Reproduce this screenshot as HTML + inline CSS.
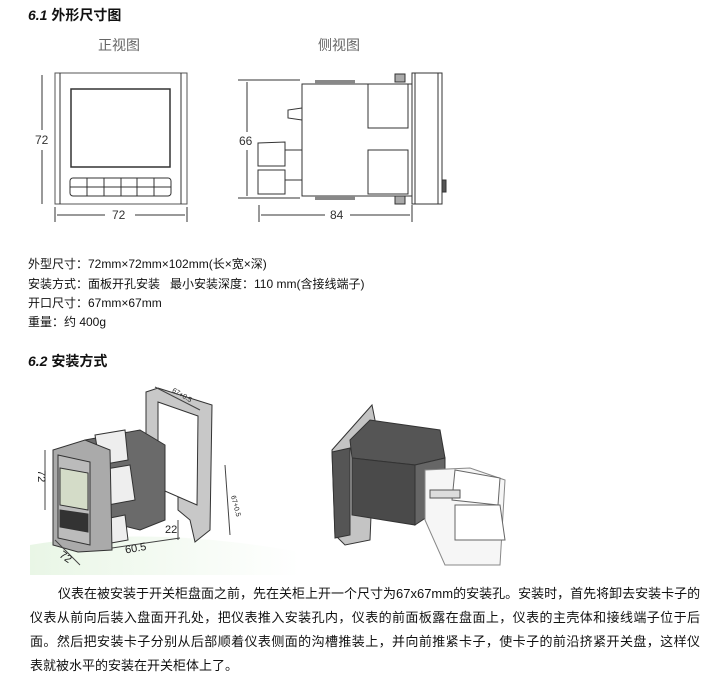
<!DOCTYPE html>
<html><head><meta charset="utf-8"><style>
body{margin:0;background:#fff;width:718px;height:690px;position:relative;overflow:hidden;font-family:"Liberation Sans","Noto Sans CJK SC",sans-serif;color:#111}
.t{position:absolute;white-space:nowrap}
.h{font-size:14px;font-weight:bold}
.s{font-size:12px}
.p{position:absolute;left:30px;width:670px;font-size:13px;text-align:justify;text-align-last:justify;white-space:nowrap;height:18px;line-height:18px}
</style></head><body>
<svg width="718" height="690" style="position:absolute;left:0;top:0" xmlns="http://www.w3.org/2000/svg">
<defs><linearGradient id="g" x1="0" y1="0" x2="1" y2="0"><stop offset="0" stop-color="#e9f6e6"/><stop offset="1" stop-color="#fff"/></linearGradient></defs>
<path d="M30 545 Q150 525 300 552 L300 575 L30 575Z" fill="url(#g)"/>
<g fill="none" stroke="#333" stroke-width="1">
<rect x="55" y="73" width="132" height="131" stroke="#555"/>
<line x1="60" y1="73" x2="60" y2="204"/><line x1="181" y1="73" x2="181" y2="204"/>
<rect x="71" y="89" width="99" height="78" stroke-width="1.5"/>
<rect x="70" y="178" width="101" height="18" rx="3"/>
<line x1="70" y1="187" x2="171" y2="187"/>
<line x1="87" y1="178" x2="87" y2="196"/><line x1="104" y1="178" x2="104" y2="196"/><line x1="121" y1="178" x2="121" y2="196"/><line x1="137" y1="178" x2="137" y2="196"/><line x1="154" y1="178" x2="154" y2="196"/>
<line x1="42" y1="75" x2="42" y2="130"/><line x1="42" y1="150" x2="42" y2="204"/>
<line x1="55" y1="207" x2="55" y2="222"/><line x1="187" y1="207" x2="187" y2="222"/>
<line x1="57" y1="215" x2="105" y2="215"/><line x1="135" y1="215" x2="185" y2="215"/>
<rect x="412" y="73" width="30" height="131"/><line x1="415" y1="73" x2="415" y2="204"/><line x1="438" y1="73" x2="438" y2="204"/>
<rect x="302" y="84" width="110" height="112"/>
<rect x="368" y="84" width="40" height="44"/><rect x="368" y="150" width="40" height="44"/>
<path d="M302 108 L288 110 L288 118 L302 120"/>
<path d="M258 143 L285 142 L285 166 L258 166Z"/><path d="M258 170 L285 170 L285 194 L258 194Z"/>
<line x1="285" y1="150" x2="302" y2="150"/><line x1="285" y1="180" x2="302" y2="180"/>
<line x1="238" y1="80" x2="300" y2="80"/><line x1="238" y1="198" x2="300" y2="198"/>
<line x1="247" y1="82" x2="247" y2="132"/><line x1="247" y1="150" x2="247" y2="196"/>
<line x1="259" y1="205" x2="259" y2="222"/><line x1="412" y1="205" x2="412" y2="222"/>
<line x1="261" y1="215" x2="325" y2="215"/><line x1="350" y1="215" x2="410" y2="215"/>
<rect x="395" y="196" width="10" height="8" fill="#aaa"/><rect x="395" y="74" width="10" height="8" fill="#aaa"/>
<rect x="442" y="180" width="4" height="12" fill="#555"/>
</g>
<g fill="#888"><rect x="315" y="80" width="40" height="4"/><rect x="315" y="196" width="40" height="4"/></g>
<!-- left install -->
<g stroke="#333" stroke-width="1">
<path d="M146 392 L158 388 L212 405 L210 530 L195 542 L190 520 L178 510 L178 440 L146 445Z" fill="#c8c8c8"/>
<path d="M158 402 L198 416 L197 505 L158 488Z" fill="#fff"/>
<path d="M85 440 L140 430 L165 445 L165 520 L140 530 L100 520Z" fill="#6a6a6a"/>
<path d="M95 435 L125 430 L128 460 L100 465Z" fill="#eee"/>
<path d="M100 470 L130 465 L135 500 L108 505Z" fill="#eee"/>
<path d="M100 520 L125 515 L128 540 L100 545Z" fill="#eee"/>
<path d="M53 450 L85 440 L110 450 L112 550 L78 552 L53 545Z" fill="#aaa"/>
<path d="M58 455 L90 462 L90 545 L58 538Z" fill="#bbb"/>
<path d="M60 468 L88 473 L88 510 L60 505Z" fill="#d4dcc8"/>
<path d="M60 510 L88 514 L88 532 L60 527Z" fill="#333"/>
</g>
<g fill="none" stroke="#444"><line x1="45" y1="450" x2="45" y2="510"/><line x1="55" y1="540" x2="80" y2="565"/><line x1="112" y1="548" x2="180" y2="538"/><line x1="178" y1="520" x2="178" y2="540"/><line x1="155" y1="387" x2="200" y2="410"/><line x1="225" y1="465" x2="230" y2="535"/></g>
<g font-family="Liberation Sans" font-size="11" fill="#222">
<text x="30" y="478" transform="rotate(90 38 478)">72</text><text x="60" y="560" transform="rotate(35 65 556)">72</text>
<text x="125" y="551" transform="rotate(-10 140 548)">60.5</text><text x="165" y="533">22</text>
<text x="172" y="396" font-size="7" transform="rotate(30 180 393)">67+0.5</text>
<text x="228" y="500" font-size="7" transform="rotate(75 232 500)">67+0.5</text>
</g>
<!-- right install -->
<g stroke="#333">
<path d="M332 450 L372 405 L375 420 L370 540 L345 545 L335 535Z" fill="#c4c4c4"/>
<path d="M332 452 L350 448 L350 535 L335 538Z" fill="#555"/>
<path d="M350 440 L370 420 L440 430 L445 458 L415 465 L352 458Z" fill="#555"/>
<path d="M352 458 L415 465 L415 525 L352 515Z" fill="#4a4a4a"/>
<path d="M415 465 L445 458 L445 505 L415 525Z" fill="#666"/>
<path d="M425 470 L470 468 L505 480 L500 565 L445 565 L425 520Z" fill="#f6f6f6" stroke="#888"/>
<path d="M455 470 L500 478 L498 505 L452 500Z" fill="#fff" stroke="#666"/>
<path d="M455 505 L500 505 L505 540 L455 540Z" fill="#fff" stroke="#666"/>
<rect x="430" y="490" width="30" height="8" fill="#ddd" stroke="#555"/>
</g>
</svg>
<div class="t h" style="left:28px;top:5px"><i>6.1</i> 外形尺寸图</div>
<div class="t" style="left:98px;top:35px;font-size:14px;color:#666">正视图</div>
<div class="t" style="left:318px;top:35px;font-size:14px;color:#666">侧视图</div>
<div class="t s" style="left:35px;top:133px;color:#333">72</div>
<div class="t s" style="left:112px;top:208px;color:#333">72</div>
<div class="t s" style="left:239px;top:134px;color:#333">66</div>
<div class="t s" style="left:330px;top:208px;color:#333">84</div>
<div class="t s" style="left:28px;top:255px">外型尺寸：72mm×72mm×102mm(长×宽×深)</div>
<div class="t s" style="left:28px;top:275px">安装方式：面板开孔安装&nbsp;&nbsp;&nbsp;最小安装深度：110 mm(含接线端子)</div>
<div class="t s" style="left:28px;top:294px">开口尺寸：67mm×67mm</div>
<div class="t s" style="left:28px;top:313px">重量：约 400g</div>
<div class="t h" style="left:28px;top:351px"><i>6.2</i> 安装方式</div>
<div class="p" style="left:58px;width:642px;top:585px">仪表在被安装于开关柜盘面之前，先在关柜上开一个尺寸为67x67mm的安装孔。安装时，首先将卸去安装卡子的</div>
<div class="p" style="top:609px">仪表从前向后装入盘面开孔处，把仪表推入安装孔内，仪表的前面板露在盘面上，仪表的主壳体和接线端子位于后</div>
<div class="p" style="top:633px">面。然后把安装卡子分别从后部顺着仪表侧面的沟槽推装上，并向前推紧卡子，使卡子的前沿挤紧开关盘，这样仪</div>
<div class="p" style="top:657px;text-align-last:left;width:auto">表就被水平的安装在开关柜体上了。</div>
</body></html>
